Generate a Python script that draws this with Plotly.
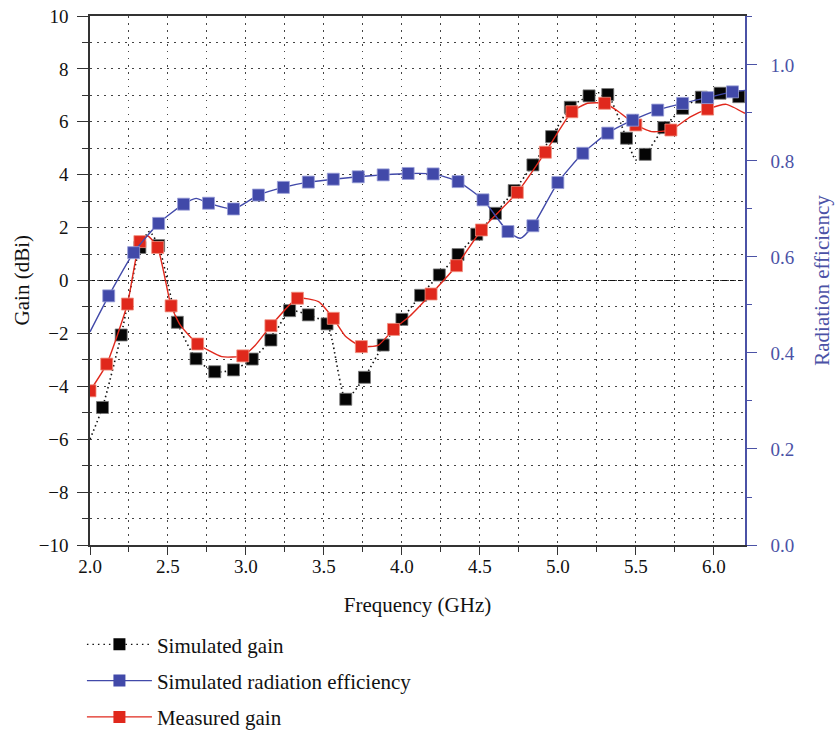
import plotly.graph_objects as go

# ---------------- data ----------------
# Simulated gain (dBi) - markers
sim_gain_x = [2.08, 2.20, 2.32, 2.44, 2.56, 2.68, 2.80, 2.92, 3.04, 3.16, 3.28, 3.40,
              3.52, 3.64, 3.76, 3.88, 4.00, 4.12, 4.24, 4.36, 4.48, 4.60, 4.72, 4.84,
              4.96, 5.08, 5.20, 5.32, 5.44, 5.56, 5.68, 5.80, 5.92, 6.04, 6.16]
sim_gain_y = [-4.80, -2.06, 1.25, 1.32, -1.58, -2.96, -3.45, -3.38, -2.97, -2.25, -1.14, -1.30,
              -1.64, -4.49, -3.66, -2.44, -1.47, -0.56, 0.21, 0.98, 1.75, 2.54, 3.40, 4.37,
              5.44, 6.55, 6.98, 7.03, 5.38, 4.77, 5.78, 6.51, 6.93, 7.08, 6.95]
# Simulated gain - curve
sim_gain_line_x = [2.00, 2.08, 2.20, 2.32, 2.38, 2.44, 2.56, 2.68, 2.80, 2.92, 3.04, 3.16, 3.28,
                   3.40, 3.52, 3.64, 3.76, 3.88, 4.00, 4.12, 4.24, 4.36, 4.48, 4.60, 4.72, 4.84,
                   4.96, 5.08, 5.20, 5.26, 5.32, 5.44, 5.50, 5.56, 5.68, 5.80, 5.92, 6.04, 6.16, 6.20]
sim_gain_line_y = [-6.00, -4.80, -2.06, 1.25, 1.85, 1.32, -1.58, -2.96, -3.45, -3.38, -2.97, -2.25, -1.14,
                   -1.30, -1.64, -4.49, -3.66, -2.44, -1.47, -0.56, 0.21, 0.98, 1.75, 2.54, 3.40, 4.37,
                   5.44, 6.55, 6.98, 7.10, 7.03, 5.38, 4.56, 4.77, 5.78, 6.51, 6.93, 7.08, 6.95, 6.90]

# Simulated radiation efficiency - markers
eff_x = [2.12, 2.28, 2.44, 2.60, 2.76, 2.92, 3.08, 3.24, 3.40, 3.56, 3.72, 3.88, 4.04,
         4.20, 4.36, 4.52, 4.68, 4.84, 5.00, 5.16, 5.32, 5.48, 5.64, 5.80, 5.96, 6.12]
eff_y = [0.519, 0.609, 0.670, 0.710, 0.712, 0.700, 0.729, 0.745, 0.756, 0.762, 0.767, 0.771, 0.774,
         0.773, 0.757, 0.719, 0.653, 0.665, 0.755, 0.816, 0.858, 0.885, 0.906, 0.920, 0.932, 0.944]
# Simulated radiation efficiency - curve
eff_line_x = [2.00, 2.12, 2.28, 2.44, 2.60, 2.68, 2.76, 2.92, 3.08, 3.24, 3.40, 3.56, 3.72, 3.88, 4.04,
              4.20, 4.36, 4.52, 4.68, 4.76, 4.84, 5.00, 5.16, 5.32, 5.48, 5.64, 5.80, 5.96, 6.12, 6.20]
eff_line_y = [0.444, 0.519, 0.609, 0.670, 0.710, 0.722, 0.712, 0.700, 0.729, 0.745, 0.756, 0.762, 0.767, 0.771, 0.774,
              0.773, 0.757, 0.719, 0.653, 0.639, 0.665, 0.755, 0.816, 0.858, 0.885, 0.906, 0.920, 0.932, 0.944, 0.947]

# Measured gain (dBi) - markers
meas_x = [2.00, 2.107, 2.24, 2.32, 2.434, 2.52, 2.69, 2.98, 3.16, 3.33, 3.56, 3.74,
          3.946, 4.187, 4.35, 4.51, 4.74, 4.92, 5.09, 5.30, 5.50, 5.725, 5.96]
meas_y = [-4.17, -3.16, -0.89, 1.47, 1.25, -0.96, -2.40, -2.85, -1.71, -0.67, -1.43, -2.50,
          -1.85, -0.51, 0.56, 1.91, 3.33, 4.85, 6.38, 6.70, 5.88, 5.69, 6.48]
# Measured gain - curve
meas_line_x = [2.00, 2.107, 2.24, 2.32, 2.37, 2.434, 2.52, 2.58, 2.69, 2.845, 2.98, 3.06, 3.16, 3.33, 3.465,
               3.56, 3.64, 3.74, 3.85, 3.946, 4.05, 4.187, 4.35, 4.51, 4.74, 4.92, 5.09, 5.19,
               5.30, 5.39, 5.50, 5.60, 5.725, 5.85, 5.96, 6.08, 6.20]
meas_line_y = [-4.17, -3.16, -0.89, 1.47, 1.68, 1.25, -0.96, -1.70, -2.40, -2.88, -2.85, -2.45, -1.71, -0.67, -0.80,
               -1.43, -2.12, -2.50, -2.44, -1.85, -1.35, -0.51, 0.56, 1.91, 3.33, 4.85, 6.38, 6.70,
               6.70, 6.38, 5.88, 5.63, 5.69, 6.19, 6.48, 6.66, 6.32]

names = ["Simulated gain", "Simulated radiation efficiency", "Measured gain"]
y_title = "Gain (dBi)"

# ---------------- style ----------------
BLACK = "#111111"
BLUE = "#4149a9"
BLUE_AX = "#4b52a6"
RED = "#e0281c"
FONT = "Liberation Serif"
GRID = dict(gridcolor="#444444", gridwidth=1, griddash="1.5px,5.5px")

fig = go.Figure()

# curves
fig.add_trace(go.Scatter(x=sim_gain_line_x, y=sim_gain_line_y, mode="lines",
                         line=dict(color=BLACK, width=1.6, dash="1.5px,3px", shape="spline", smoothing=0.6),
                         showlegend=False, hoverinfo="skip"))
fig.add_trace(go.Scatter(x=sim_gain_x, y=sim_gain_y, mode="markers",
                         marker=dict(symbol="square", size=12, color="#050505",
                                     line=dict(color="#777777", width=0.8)),
                         showlegend=False))
fig.add_trace(go.Scatter(x=meas_line_x, y=meas_line_y, mode="lines",
                         line=dict(color=RED, width=1.4, shape="spline", smoothing=0.5),
                         showlegend=False, hoverinfo="skip"))
fig.add_trace(go.Scatter(x=meas_x, y=meas_y, mode="markers",
                         marker=dict(symbol="square", size=12, color=RED,
                                     line=dict(color="#f09080", width=0.8)),
                         showlegend=False))
fig.add_trace(go.Scatter(x=eff_line_x, y=eff_line_y, mode="lines", yaxis="y2",
                         line=dict(color=BLUE, width=1.4, shape="spline", smoothing=0.6),
                         showlegend=False, hoverinfo="skip"))
fig.add_trace(go.Scatter(x=eff_x, y=eff_y, mode="markers", yaxis="y2",
                         marker=dict(symbol="square", size=12, color=BLUE,
                                     line=dict(color="#9a9fd8", width=0.8)),
                         showlegend=False))

# legend entries
fig.add_trace(go.Scatter(x=[None], y=[None], mode="lines+markers", name=names[0], legendgroup="a",
                         line=dict(color=BLACK, width=1.2, dash="1.5px,4px"),
                         marker=dict(symbol="square", size=12, color="#050505")))
fig.add_trace(go.Scatter(x=[None], y=[None], mode="lines+markers", name=names[1], legendgroup="b",
                         line=dict(color=BLUE, width=1.4),
                         marker=dict(symbol="square", size=12, color=BLUE)))
fig.add_trace(go.Scatter(x=[None], y=[None], mode="lines+markers", name=names[2], legendgroup="c",
                         line=dict(color=RED, width=1.4),
                         marker=dict(symbol="square", size=12, color=RED)))

# zero reference line
fig.add_shape(type="line", xref="paper", x0=0, x1=1, yref="y", y0=0, y1=0,
              line=dict(color="#111111", width=1, dash="5px,3px"), layer="below")

# left axis title (as annotation to keep exact placement)
fig.add_annotation(text=y_title, xref="paper", yref="paper", x=-0.104, y=0.5,
                   xanchor="center", yanchor="middle", textangle=-90, showarrow=False,
                   font=dict(family=FONT, size=21, color="#111111"))

fig.update_layout(
    width=836, height=733,
    margin=dict(l=90, r=91, t=16, b=188, autoexpand=False),
    paper_bgcolor="white", plot_bgcolor="white",
    font=dict(family=FONT, size=19, color="#111111"),
    showlegend=True,
    legend=dict(xref="container", yref="container", x=0.098, y=0.1485,
                xanchor="left", yanchor="top",
                font=dict(family=FONT, size=21, color="#111111"),
                tracegroupgap=6, itemwidth=65, bgcolor="rgba(0,0,0,0)"),
    xaxis=dict(range=[2.0, 6.2], dtick=0.5, tick0=2.0, tickformat=".1f",
               showline=True, linecolor="#333333", linewidth=1.5, mirror=True,
               ticks="outside", ticklen=8, tickwidth=1.2, tickcolor="#333333",
               ticklabelstandoff=-5, automargin=False,
               showgrid=True, **GRID, zeroline=False,
               minor=dict(dtick=0.25, tick0=2.0, ticks="outside", ticklen=5, tickcolor="#333333",
                          showgrid=True, **GRID),
               title=dict(text="Frequency (GHz)", font=dict(size=21), standoff=22),
               tickfont=dict(size=19)),
    yaxis=dict(range=[-10, 10], dtick=2, tick0=0,
               showline=True, linecolor="#333333", linewidth=1.5,
               ticks="outside", ticklen=11, tickwidth=1.2, tickcolor="#333333",
               ticklabelstandoff=5, automargin=False,
               showgrid=True, **GRID, zeroline=False,
               minor=dict(dtick=1, tick0=0, ticks="outside", ticklen=6, tickcolor="#333333",
                          showgrid=True, **GRID),
               tickfont=dict(size=19)),
    yaxis2=dict(range=[0, 1.102], dtick=0.2, tick0=0, tickformat=".1f",
                overlaying="y", side="right",
                showline=True, linecolor=BLUE_AX, linewidth=1.5,
                ticks="outside", ticklen=10, tickwidth=1.2, tickcolor=BLUE_AX,
                ticklabelstandoff=10, automargin=False,
                showgrid=False, zeroline=False,
                minor=dict(dtick=0.1, tick0=0, ticks="outside", ticklen=5, tickcolor=BLUE_AX),
                title=dict(text="Radiation efficiency", font=dict(size=21, color=BLUE_AX), standoff=21),
                tickfont=dict(size=19, color=BLUE_AX)),
)

fig.write_html("out.html")
